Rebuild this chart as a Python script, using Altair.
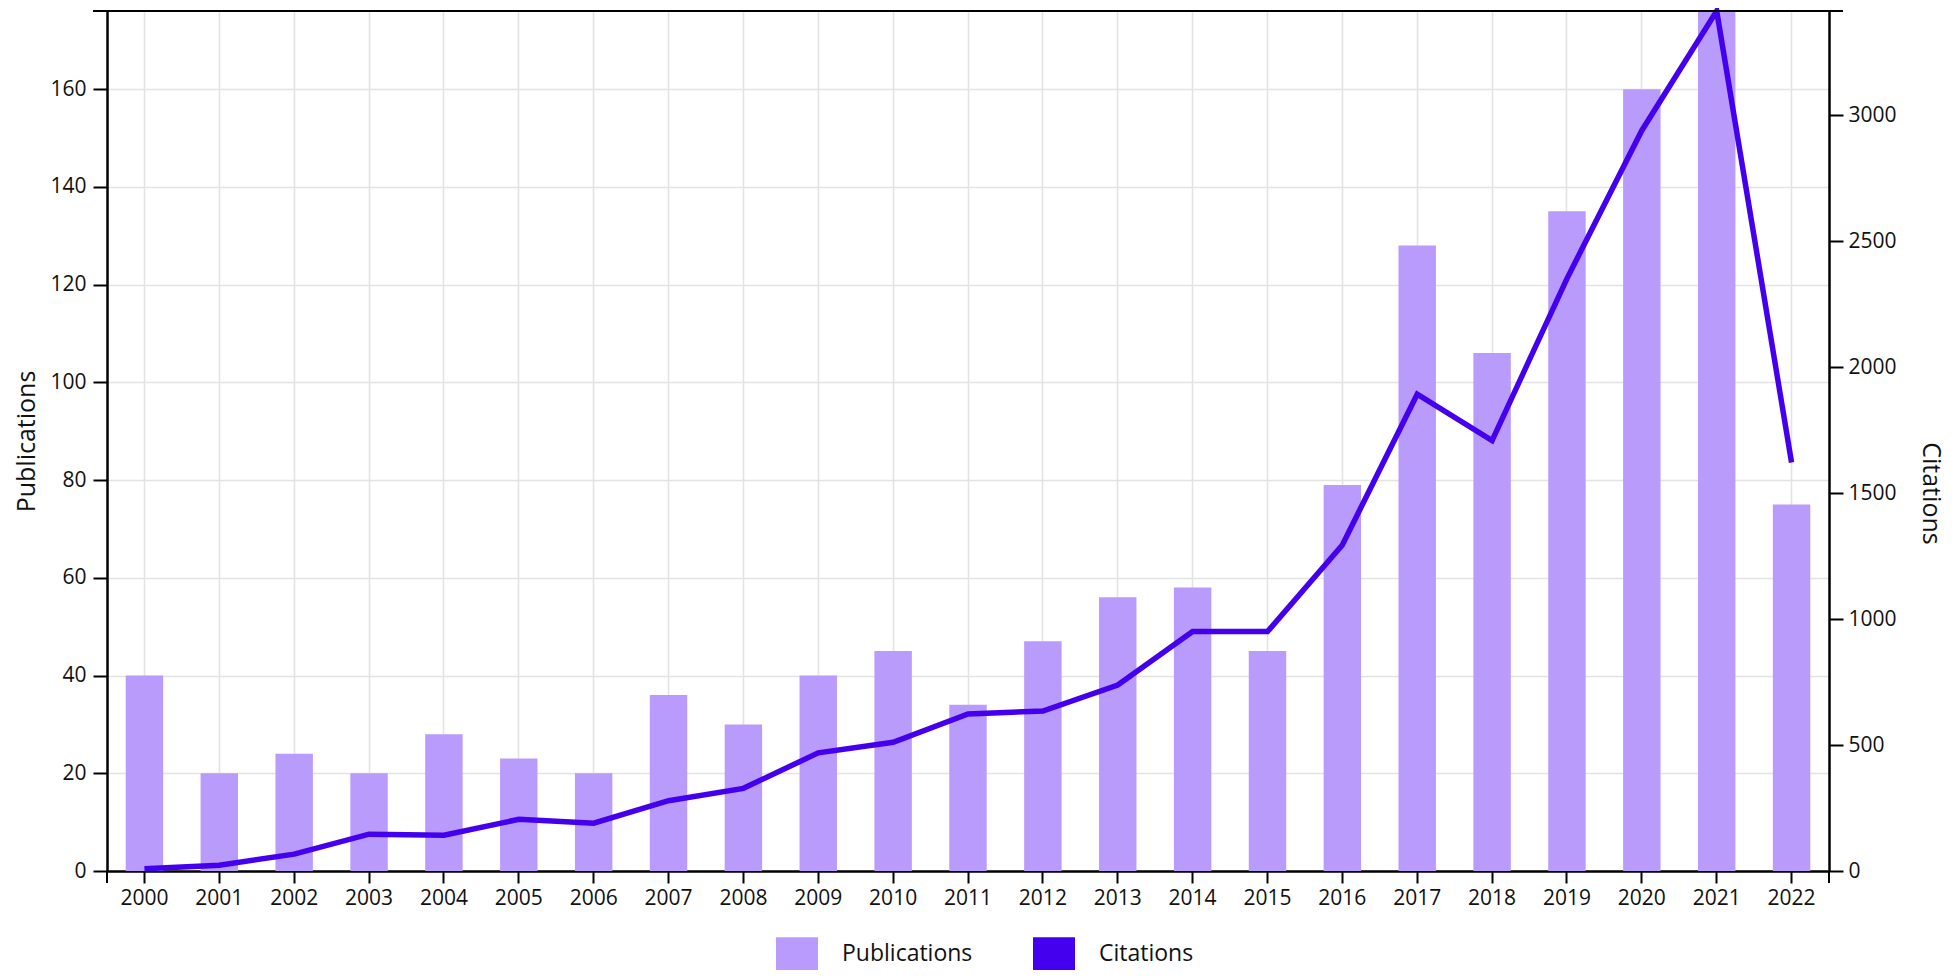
import altair as alt
import pandas as pd

years = ["2000", "2001", "2002", "2003", "2004", "2005", "2006", "2007", "2008",
         "2009", "2010", "2011", "2012", "2013", "2014", "2015", "2016", "2017",
         "2018", "2019", "2020", "2021", "2022"]
publications = [40, 20, 24, 20, 28, 23, 20, 36, 30, 40, 45, 34, 47, 56, 58, 45,
                79, 128, 106, 135, 160, 176, 75]
citations = [9, 23, 67, 146, 142, 205, 190, 279, 328, 469, 511, 623, 635, 738,
             950, 950, 1294, 1892, 1708, 2351, 2939, 3413, 1621]

series_names = ["Publications", "Citations"]
series_colors = ["#b99bfc", "#4400ee"]
left_ticks = [0, 20, 40, 60, 80, 100, 120, 140, 160]
right_ticks = [0, 500, 1000, 1500, 2000, 2500, 3000]

FONT = "Open Sans"
W, H = 1722, 860
GRID = "#e3e3e3"
INK = "#111111"

df = pd.DataFrame({"year": years, "Publications": publications, "Citations": citations})

x_enc = alt.X(
    "year:N", sort=years, title=None,
    scale=alt.Scale(paddingInner=0.5, paddingOuter=0.25),
    axis=alt.Axis(labelAngle=0, labelFontSize=21, labelFont=FONT, labelColor=INK,
                  labelPadding=4, tickSize=12, tickWidth=2, tickColor="#000",
                  domainColor="#000", domainWidth=2.5,
                  grid=True, gridColor=GRID, gridWidth=1.6),
)

color_scale = alt.Scale(domain=series_names, range=series_colors)

bars = alt.Chart(df).transform_calculate(series="'Publications'").mark_bar().encode(
    x=x_enc,
    y=alt.Y("Publications:Q", scale=alt.Scale(domain=[0, 176], nice=False),
            axis=alt.Axis(orient="left", values=left_ticks, title="Publications",
                          titleFontSize=25, titleFont=FONT, titleFontWeight="normal",
                          titleColor=INK, titlePadding=10,
                          labelFontSize=21, labelFont=FONT, labelColor=INK, labelPadding=7,
                          tickSize=14, tickWidth=2, tickColor="#000",
                          domainColor="#000", domainWidth=2.5,
                          grid=True, gridColor=GRID, gridWidth=1.6)),
    color=alt.Color("series:N", scale=color_scale,
                    legend=alt.Legend(title=None, orient="none", legendX=669, legendY=922,
                                      direction="horizontal",
                                      symbolType="M-1,-0.8H1V0.8H-1Z", symbolSize=1764,
                                      symbolStrokeWidth=0, symbolOpacity=1,
                                      labelFontSize=23, labelFont=FONT, labelColor=INK,
                                      labelOffset=24, columnPadding=60, padding=0)),
)

line = alt.Chart(df).transform_calculate(series="'Citations'").mark_line(
    strokeWidth=5.5, strokeJoin="miter", clip=False
).encode(
    x=x_enc,
    y=alt.Y("Citations:Q", scale=alt.Scale(domain=[0, 3413], nice=False),
            axis=alt.Axis(orient="right", values=right_ticks, format="d", title="Citations",
                          titleAngle=90, titleFontSize=25, titleFont=FONT,
                          titleFontWeight="normal", titleColor=INK, titlePadding=21,
                          titleY=482,
                          labelFontSize=21, labelFont=FONT, labelColor=INK, labelPadding=5,
                          tickSize=14, tickWidth=2, tickColor="#000",
                          domainColor="#000", domainWidth=2.5, grid=False)),
    color=alt.Color("series:N", scale=color_scale, legend=None),
)

deco = alt.Data(values=[{"k": 0}])
top_rule = alt.Chart(deco).mark_rule(color="#000", strokeWidth=2).encode(
    x=alt.value(-14), x2=alt.value(W + 14), y=alt.value(0))
left_ext = alt.Chart(deco).mark_rule(color="#000", strokeWidth=2).encode(
    x=alt.value(0), y=alt.value(H), y2=alt.value(H + 12))
right_ext = alt.Chart(deco).mark_rule(color="#000", strokeWidth=2).encode(
    x=alt.value(W), y=alt.value(H), y2=alt.value(H + 12))

chart = alt.layer(bars, line, top_rule, left_ext, right_ext).resolve_scale(
    y="independent"
).properties(
    width=W, height=H,
    autosize=alt.AutoSizeParams(type="none"),
    padding={"left": 99, "top": 3, "right": 123, "bottom": 99},
).configure(font=FONT).configure_view(stroke=None)

chart.save("out.html", embed_options={"renderer": "svg", "actions": False})
